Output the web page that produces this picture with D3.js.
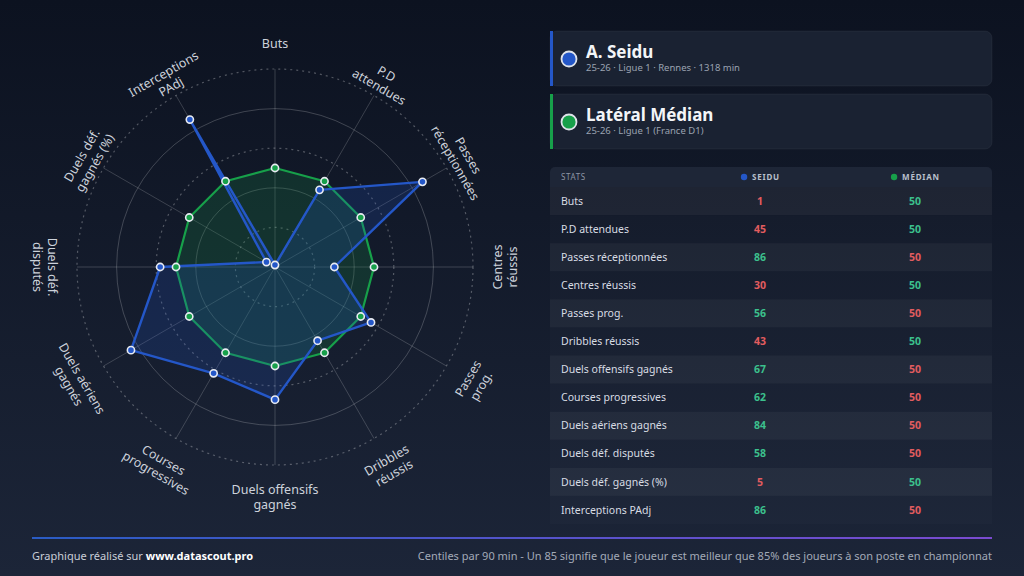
<!DOCTYPE html>
<html>
<head>
<meta charset="utf-8">
<script src="https://cdn.jsdelivr.net/npm/d3@7"></script>
<style>
  html, body { margin: 0; padding: 0; background: #0e1422; }
  svg { display: block; font-family: "Noto Sans", "Open Sans", sans-serif; }
</style>
</head>
<body>
<div id="chart"></div>
<script>
var svgWidth = 1024;
var svgHeight = 576;

// data
var statNames = ["Buts", "P.D attendues", "Passes réceptionnées", "Centres réussis", "Passes prog.",
  "Dribbles réussis", "Duels offensifs gagnés", "Courses progressives", "Duels aériens gagnés",
  "Duels déf. disputés", "Duels déf. gagnés (%)", "Interceptions PAdj"];
var axisLabels = [["Buts"], ["P.D", "attendues"], ["Passes", "réceptionnées"], ["Centres", "réussis"],
  ["Passes", "prog."], ["Dribbles", "réussis"], ["Duels offensifs", "gagnés"], ["Courses", "progressives"],
  ["Duels aériens", "gagnés"], ["Duels déf.", "disputés"], ["Duels déf.", "gagnés (%)"], ["Interceptions", "PAdj"]];
var seiduValues = [1, 45, 86, 30, 56, 43, 67, 62, 84, 58, 5, 86];
var medianValues = [50, 50, 50, 50, 50, 50, 50, 50, 50, 50, 50, 50];
var ringTicks = [20, 40, 60, 80, 100];

var blue = "#2457c8";
var green = "#17a04a";
var good = "#3cc08d";
var bad = "#e25c5f";

var svg = d3.select("#chart")
  .append("svg")
  .attr("width", svgWidth)
  .attr("height", svgHeight);

var defs = svg.append("defs");
var bg = defs.append("linearGradient").attr("id", "bg")
  .attr("x1", 0).attr("y1", 0).attr("x2", 0).attr("y2", 1);
bg.append("stop").attr("offset", "0%").attr("stop-color", "#0c1220");
bg.append("stop").attr("offset", "100%").attr("stop-color", "#1c2538");

var fl = defs.append("linearGradient").attr("id", "footline")
  .attr("x1", 0).attr("y1", 0).attr("x2", 1).attr("y2", 0);
fl.append("stop").attr("offset", "0%").attr("stop-color", "#2a5cc4");
fl.append("stop").attr("offset", "100%").attr("stop-color", "#7a4bd0");

svg.append("rect").attr("width", svgWidth).attr("height", svgHeight).attr("fill", "url(#bg)");

// ---------- radar ----------
var cx = 275, cy = 267, R = 198;
var radar = svg.append("g").attr("transform", `translate(${cx}, ${cy})`);

var rScale = d3.scaleLinear().domain([0, 100]).range([0, R]);
var aScale = d3.scaleLinear().domain([0, statNames.length]).range([0, 2 * Math.PI]);

radar.selectAll(".ring")
  .data(ringTicks)
  .enter()
  .append("circle")
  .attr("r", d => rScale(d))
  .attr("fill", "none")
  .attr("stroke", (d, i) => i % 2 === 0 ? "rgba(255,255,255,0.28)" : "rgba(255,255,255,0.2)")
  .attr("stroke-width", (d, i) => i % 2 === 0 ? 1.2 : 1)
  .attr("stroke-dasharray", (d, i) => i % 2 === 0 ? "2,4" : null);

radar.selectAll(".spoke")
  .data(statNames)
  .enter()
  .append("line")
  .attr("x1", 0).attr("y1", 0)
  .attr("x2", (d, i) => Math.sin(aScale(i)) * rScale(100))
  .attr("y2", (d, i) => -Math.cos(aScale(i)) * rScale(100))
  .attr("stroke", "rgba(255,255,255,0.18)")
  .attr("stroke-width", 1);

var radial = d3.lineRadial()
  .angle((d, i) => aScale(i))
  .radius(d => rScale(d))
  .curve(d3.curveLinearClosed);

radar.append("path")
  .attr("d", radial(medianValues))
  .attr("fill", "rgba(23,140,70,0.22)")
  .attr("stroke", green)
  .attr("stroke-width", 2.2)
  .attr("stroke-linejoin", "round");

radar.append("path")
  .attr("d", radial(seiduValues))
  .attr("fill", "rgba(36,87,200,0.2)")
  .attr("stroke", blue)
  .attr("stroke-width", 2.4)
  .attr("stroke-linejoin", "round");

function drawPoints(values, color) {
  radar.selectAll(null)
    .data(values)
    .enter()
    .append("circle")
    .attr("cx", (d, i) => Math.sin(aScale(i)) * rScale(d))
    .attr("cy", (d, i) => -Math.cos(aScale(i)) * rScale(d))
    .attr("r", 3.6)
    .attr("fill", color)
    .attr("stroke", "#e8ebf2")
    .attr("stroke-width", 1.6);
}
drawPoints(medianValues, green);
drawPoints(seiduValues, blue);

// axis labels, tangent to the circle
var labelR = 223;
var lineGap = 15;
radar.selectAll(".axisLabel")
  .data(axisLabels)
  .enter()
  .append("g")
  .each(function(lines, i) {
    var deg = i * 360 / statNames.length;
    var rot = (deg >= 90 && deg <= 270) ? deg - 180 : (deg > 270 ? deg - 360 : deg);
    var a = aScale(i);
    var x = Math.sin(a) * labelR, y = -Math.cos(a) * labelR;
    var t = d3.select(this).append("text")
      .attr("transform", `translate(${x}, ${y}) rotate(${rot})`)
      .attr("text-anchor", "middle")
      .attr("fill", "#cdd2db")
      .attr("font-size", "12.5px");
    lines.forEach(function(l, k) {
      t.append("tspan").attr("x", 0).attr("y", k * lineGap).attr("dy", "0.35em").text(l);
    });
  });

// ---------- player cards ----------
var cards = [
  { name: "A. Seidu", sub: "25-26 · Ligue 1 · Rennes · 1318 min", color: blue, y: 31 },
  { name: "Latéral Médian", sub: "25-26 · Ligue 1 (France D1)", color: green, y: 94 }
];
var cardG = svg.selectAll(".card").data(cards).enter().append("g")
  .attr("transform", d => `translate(550, ${d.y})`);
cardG.append("rect").attr("width", 442).attr("height", 55).attr("rx", 7)
  .attr("fill", "#1a2232").attr("stroke", "rgba(255,255,255,0.05)");
cardG.append("rect").attr("width", 3).attr("height", 55).attr("fill", d => d.color);
cardG.append("circle").attr("cx", 19).attr("cy", 28).attr("r", 7.5)
  .attr("fill", d => d.color).attr("stroke", "#dfe3ea").attr("stroke-width", 1.8);
cardG.append("text").attr("x", 36).attr("y", 27)
  .attr("fill", "#f3f5f8").attr("font-size", "17px").attr("font-weight", "bold")
  .text(d => d.name);
cardG.append("text").attr("x", 36).attr("y", 40)
  .attr("fill", "#9aa2b1").attr("font-size", "9.5px")
  .text(d => d.sub);

// ---------- table ----------
var tx = 550, tw = 442;
var colSeidu = 760, colMedian = 915;
var yRow = d3.scaleBand().domain(statNames).range([187, 524]);

svg.append("path")
  .attr("d", `M${tx},187 V172 a5,5 0 0 1 5,-5 H${tx + tw - 5} a5,5 0 0 1 5,5 V187 Z`)
  .attr("fill", "#1e2637");
svg.append("text").attr("x", 561).attr("y", 180)
  .attr("fill", "#8d95a4").attr("font-size", "8px").attr("letter-spacing", "0.6px")
  .text("STATS");
var heads = [{ t: "SEIDU", x: colSeidu, c: blue }, { t: "MÉDIAN", x: colMedian, c: green }];
heads.forEach(function(h) {
  var t = svg.append("text").attr("x", h.x + 6).attr("y", 180)
    .attr("text-anchor", "middle")
    .attr("fill", "#b9c0cc").attr("font-size", "8px").attr("font-weight", "bold")
    .attr("letter-spacing", "0.8px").text(h.t);
  var w = t.node().getComputedTextLength();
  svg.append("circle").attr("cx", h.x + 6 - w / 2 - 8).attr("cy", 177).attr("r", 3.2).attr("fill", h.c);
});

var rows = svg.selectAll(".row").data(statNames).enter().append("g")
  .attr("transform", d => `translate(0, ${yRow(d)})`);
rows.append("rect").attr("x", tx).attr("width", tw).attr("height", yRow.bandwidth())
  .attr("fill", (d, i) => i % 2 === 0 ? "rgba(255,255,255,0.055)" : "rgba(255,255,255,0.015)");
rows.append("text").attr("x", 561).attr("y", yRow.bandwidth() / 2).attr("dy", "0.35em")
  .attr("fill", "#d8dce3").attr("font-size", "10.5px")
  .text(d => d);
rows.append("text").attr("x", colSeidu).attr("y", yRow.bandwidth() / 2).attr("dy", "0.35em")
  .attr("text-anchor", "middle").attr("font-size", "10.5px").attr("font-weight", "bold")
  .attr("fill", (d, i) => seiduValues[i] > medianValues[i] ? good : bad)
  .text((d, i) => seiduValues[i]);
rows.append("text").attr("x", colMedian).attr("y", yRow.bandwidth() / 2).attr("dy", "0.35em")
  .attr("text-anchor", "middle").attr("font-size", "10.5px").attr("font-weight", "bold")
  .attr("fill", (d, i) => medianValues[i] > seiduValues[i] ? good : bad)
  .text((d, i) => medianValues[i]);

// ---------- footer ----------
svg.append("rect").attr("x", 32).attr("y", 537).attr("width", 960).attr("height", 2)
  .attr("fill", "url(#footline)");
var left = svg.append("text").attr("x", 32).attr("y", 560)
  .attr("fill", "#c9ced8").attr("font-size", "11px");
left.append("tspan").text("Graphique réalisé sur ");
left.append("tspan").attr("font-weight", "bold").attr("fill", "#ffffff").text("www.datascout.pro");
svg.append("text").attr("x", 992).attr("y", 560).attr("text-anchor", "end")
  .attr("fill", "#a3aab7").attr("font-size", "11px")
  .text("Centiles par 90 min - Un 85 signifie que le joueur est meilleur que 85% des joueurs à son poste en championnat");
</script>
</body>
</html>
